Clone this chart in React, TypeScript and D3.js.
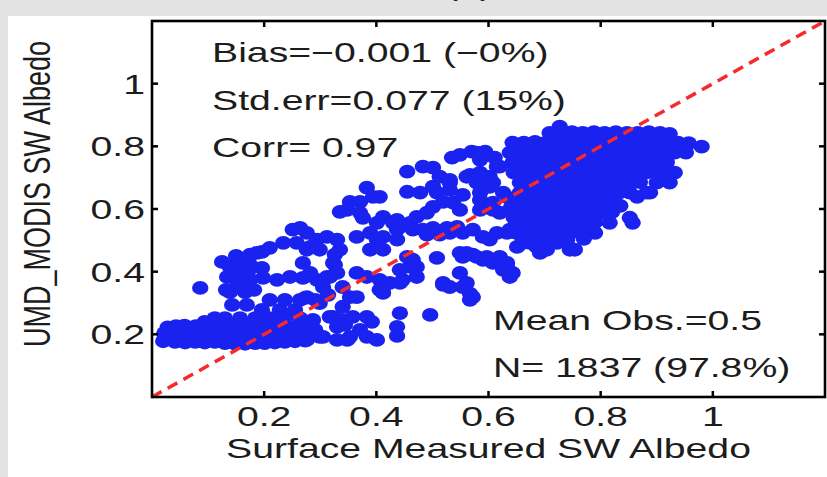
import React from 'react';
import * as d3 from 'd3';

// tick values shared by both axes
const ticks = [0.2, 0.4, 0.6, 0.8, 1];

// [surface measured, UMD_MODIS] albedo pairs
const lowBand = [
  [0.020, 0.178], [0.022, 0.204], [0.028, 0.222],
  [0.041, 0.176], [0.041, 0.200], [0.043, 0.226],
  [0.059, 0.174], [0.060, 0.200], [0.058, 0.228],
  [0.077, 0.176], [0.077, 0.201], [0.078, 0.226],
  [0.094, 0.174], [0.095, 0.199], [0.094, 0.228],
  [0.112, 0.176], [0.112, 0.200], [0.113, 0.229],
  [0.130, 0.172], [0.130, 0.198], [0.131, 0.228],
  [0.148, 0.170], [0.148, 0.198], [0.149, 0.230],
  [0.166, 0.170], [0.166, 0.198], [0.167, 0.228],
  [0.184, 0.172], [0.184, 0.200], [0.185, 0.228],
  [0.201, 0.172], [0.202, 0.198], [0.201, 0.226],
  [0.219, 0.174], [0.219, 0.198], [0.220, 0.226],
  [0.237, 0.176], [0.238, 0.200], [0.237, 0.224],
  [0.255, 0.178], [0.255, 0.200], [0.256, 0.222],
  [0.273, 0.180], [0.274, 0.204], [0.272, 0.226],
];

const lowBlob = [
  [0.130, 0.252], [0.157, 0.252], [0.184, 0.252], [0.210, 0.252], [0.237, 0.252], [0.264, 0.252],
  [0.143, 0.294], [0.169, 0.294], [0.196, 0.278], [0.228, 0.278], [0.255, 0.278],
  [0.139, 0.335], [0.166, 0.335], [0.153, 0.364],
  [0.287, 0.246], [0.317, 0.256], [0.339, 0.246], [0.305, 0.192], [0.330, 0.182],
  [0.348, 0.182], [0.276, 0.182], [0.264, 0.310], [0.273, 0.316], [0.086, 0.348],
  [0.132, 0.342], [0.157, 0.348], [0.182, 0.342], [0.146, 0.406], [0.171, 0.399],
  [0.196, 0.412], [0.125, 0.431], [0.150, 0.450], [0.175, 0.454], [0.210, 0.310],
  [0.237, 0.310], [0.112, 0.252], [0.094, 0.240], [0.291, 0.310], [0.314, 0.326],
  [0.291, 0.214], [0.246, 0.214], [0.344, 0.230], [0.371, 0.214], [0.392, 0.240],
];

const lowArc = [
  [0.139, 0.415], [0.157, 0.431], [0.175, 0.422], [0.187, 0.460], [0.134, 0.383],
  [0.152, 0.374], [0.175, 0.374], [0.198, 0.380], [0.223, 0.374], [0.246, 0.383],
  [0.269, 0.380], [0.294, 0.374], [0.305, 0.351], [0.317, 0.383], [0.326, 0.422],
  [0.326, 0.454], [0.299, 0.470], [0.282, 0.479], [0.258, 0.492], [0.234, 0.492],
  [0.210, 0.476], [0.196, 0.463],
];

const midLoop = [
  [0.276, 0.524], [0.294, 0.502], [0.312, 0.511], [0.330, 0.502], [0.335, 0.470],
  [0.323, 0.428], [0.330, 0.396], [0.312, 0.383], [0.282, 0.396], [0.269, 0.428],
  [0.276, 0.470], [0.251, 0.534], [0.264, 0.540],
];

const midScatter = [
  [0.340, 0.351], [0.353, 0.319], [0.365, 0.396], [0.383, 0.383], [0.406, 0.374],
  [0.412, 0.348], [0.447, 0.374], [0.472, 0.415], [0.455, 0.447], [0.465, 0.438],
  [0.406, 0.342], [0.424, 0.364], [0.442, 0.406], [0.460, 0.415], [0.472, 0.383],
  [0.442, 0.364], [0.412, 0.332], [0.508, 0.444], [0.549, 0.460], [0.572, 0.454],
  [0.597, 0.447], [0.549, 0.396], [0.561, 0.364], [0.572, 0.319], [0.531, 0.351],
  [0.519, 0.358], [0.442, 0.268], [0.496, 0.262], [0.437, 0.224], [0.437, 0.195],
  [0.276, 0.319], [0.299, 0.300], [0.323, 0.256], [0.340, 0.288], [0.365, 0.319],
  [0.383, 0.256], [0.358, 0.256], [0.353, 0.192], [0.383, 0.192], [0.401, 0.182],
  [0.330, 0.224], [0.299, 0.192], [0.554, 0.447], [0.590, 0.438], [0.608, 0.428],
  [0.626, 0.406], [0.638, 0.383], [0.567, 0.310], [0.519, 0.364], [0.602, 0.502],
  [0.633, 0.524], [0.651, 0.524], [0.674, 0.492], [0.704, 0.470], [0.745, 0.470],
  [0.561, 0.460], [0.579, 0.447], [0.620, 0.438], [0.633, 0.415], [0.638, 0.396],
  [0.554, 0.351], [0.567, 0.330],
];

const upperScatter = [
  [0.335, 0.591], [0.353, 0.623], [0.371, 0.623], [0.383, 0.668], [0.406, 0.639],
  [0.371, 0.588], [0.376, 0.572], [0.365, 0.511], [0.389, 0.524], [0.412, 0.511],
  [0.437, 0.534], [0.465, 0.534], [0.490, 0.518], [0.513, 0.518], [0.531, 0.524],
  [0.389, 0.470], [0.412, 0.470], [0.401, 0.556], [0.412, 0.575], [0.437, 0.565],
  [0.460, 0.556], [0.472, 0.575], [0.490, 0.588], [0.501, 0.607], [0.455, 0.655],
  [0.478, 0.652], [0.501, 0.671], [0.531, 0.661], [0.554, 0.645], [0.579, 0.684],
  [0.602, 0.671], [0.626, 0.652], [0.590, 0.511], [0.615, 0.524], [0.638, 0.534],
  [0.661, 0.543], [0.686, 0.556], [0.674, 0.502], [0.686, 0.479], [0.697, 0.524],
  [0.620, 0.588], [0.643, 0.629], [0.668, 0.652], [0.692, 0.671], [0.535, 0.764],
  [0.570, 0.783], [0.594, 0.783], [0.611, 0.764], [0.455, 0.719], [0.483, 0.735],
  [0.501, 0.732], [0.513, 0.703], [0.531, 0.693], [0.508, 0.652], [0.519, 0.623],
  [0.537, 0.620], [0.549, 0.597], [0.567, 0.709], [0.585, 0.716], [0.602, 0.703],
  [0.597, 0.607], [0.394, 0.639], [0.348, 0.597], [0.430, 0.556], [0.442, 0.543],
  [0.483, 0.534], [0.501, 0.540], [0.401, 0.502], [0.437, 0.502], [0.526, 0.540],
  [0.544, 0.543], [0.554, 0.524], [0.572, 0.534], [0.549, 0.773], [0.579, 0.780],
  [0.620, 0.735], [0.561, 0.703], [0.531, 0.684], [0.585, 0.629], [0.585, 0.597],
  [0.608, 0.597], [0.585, 0.757], [0.615, 0.735], [0.608, 0.684], [0.585, 0.652],
  [0.608, 0.620],
];

const upperBlob = [
  [0.727, 0.863],
  [0.709, 0.843], [0.729, 0.843], [0.749, 0.845], [0.768, 0.843], [0.788, 0.845], [0.807, 0.843],
  [0.827, 0.845], [0.847, 0.843], [0.866, 0.843], [0.886, 0.845], [0.906, 0.843], [0.923, 0.840],
  [0.643, 0.812], [0.663, 0.812], [0.683, 0.814], [0.702, 0.812], [0.722, 0.812], [0.742, 0.814],
  [0.761, 0.812], [0.781, 0.812], [0.800, 0.814], [0.820, 0.812], [0.840, 0.812], [0.859, 0.814],
  [0.879, 0.812], [0.898, 0.812], [0.918, 0.814], [0.938, 0.812], [0.957, 0.810],
  [0.638, 0.780], [0.658, 0.780], [0.677, 0.782], [0.697, 0.780], [0.717, 0.780], [0.736, 0.782],
  [0.756, 0.780], [0.775, 0.780], [0.795, 0.782], [0.815, 0.780], [0.834, 0.780], [0.854, 0.782],
  [0.873, 0.780], [0.893, 0.780], [0.913, 0.782], [0.932, 0.780], [0.952, 0.780], [0.980, 0.799],
  [0.643, 0.748], [0.663, 0.748], [0.683, 0.750], [0.702, 0.748], [0.722, 0.748], [0.742, 0.750],
  [0.761, 0.748], [0.781, 0.748], [0.800, 0.750], [0.820, 0.748], [0.840, 0.748], [0.859, 0.750],
  [0.879, 0.748], [0.898, 0.748], [0.918, 0.750],
  [0.645, 0.716], [0.665, 0.716], [0.684, 0.718], [0.704, 0.716], [0.724, 0.716], [0.743, 0.718],
  [0.763, 0.716], [0.783, 0.716], [0.802, 0.718], [0.822, 0.716], [0.841, 0.716], [0.861, 0.718],
  [0.881, 0.716], [0.900, 0.716], [0.920, 0.718], [0.932, 0.716],
  [0.656, 0.684], [0.676, 0.684], [0.695, 0.686], [0.715, 0.684], [0.735, 0.684], [0.754, 0.686],
  [0.774, 0.684], [0.794, 0.684], [0.813, 0.686], [0.833, 0.684], [0.853, 0.684], [0.870, 0.686],
  [0.900, 0.684], [0.923, 0.684],
  [0.656, 0.652], [0.676, 0.652], [0.695, 0.654], [0.715, 0.652], [0.735, 0.652], [0.754, 0.654],
  [0.774, 0.652], [0.794, 0.652], [0.813, 0.654], [0.833, 0.652], [0.852, 0.652],
  [0.660, 0.620], [0.680, 0.620], [0.700, 0.622], [0.719, 0.620], [0.739, 0.620], [0.758, 0.622],
  [0.778, 0.620], [0.798, 0.620], [0.817, 0.622], [0.825, 0.620],
  [0.665, 0.588], [0.685, 0.588], [0.704, 0.590], [0.724, 0.588], [0.744, 0.588], [0.763, 0.590],
  [0.783, 0.588], [0.799, 0.588],
  [0.692, 0.556], [0.712, 0.556], [0.731, 0.558], [0.751, 0.556], [0.771, 0.556], [0.790, 0.558],
  [0.816, 0.556], [0.857, 0.556],
  [0.709, 0.524], [0.729, 0.524], [0.749, 0.526], [0.768, 0.524], [0.790, 0.524],
  [0.722, 0.492], [0.754, 0.470], [0.661, 0.492], [0.651, 0.479], [0.692, 0.460], [0.643, 0.527],
  [0.620, 0.447], [0.633, 0.428], [0.643, 0.396], [0.852, 0.572], [0.918, 0.693], [0.888, 0.652],
  [0.865, 0.639], [0.882, 0.652],
  [0.635, 0.636], [0.640, 0.604], [0.645, 0.572], [0.650, 0.540], [0.668, 0.556], [0.672, 0.524],
  [0.690, 0.508], [0.705, 0.540], [0.740, 0.540], [0.770, 0.505], [0.740, 0.500], [0.700, 0.495],
  [0.660, 0.510], [0.680, 0.535], [0.760, 0.560], [0.800, 0.600], [0.820, 0.590], [0.835, 0.610],
];

const statsLeft = ['Bias=\u22120.001 (\u22120%)', 'Std.err=0.077 (15%)', 'Corr= 0.97'];
const statsRight = ['Mean Obs.=0.5', 'N= 1837 (97.8%)'];

const W = 827;
const H = 477;
const left = 152, right = 825, top = 21, bottom = 397;
const sx = 1.4; // the figure is stretched sideways
const font = '"Liberation Sans", Arial, Helvetica, sans-serif';

export default function App() {
  const x = d3.scaleLinear().domain([0, 1.2]).range([left, right]);
  const y = d3.scaleLinear().domain([0, 1.2]).range([bottom, top]);
  const points = [...lowBand, ...lowBlob, ...lowArc, ...midLoop, ...midScatter, ...upperScatter, ...upperBlob];
  const diag = d3.line<number>().x((d) => x(d)).y((d) => y(d));

  const label = (tx: number, ty: number, s: string, anchor = 'start', size = 28) => (
    <g key={s + tx + ty} transform={`translate(${tx},${ty}) scale(${sx},1)`}>
      <text textAnchor={anchor} fontSize={size} fill="#1c1c1c" fontFamily={font}>{s}</text>
    </g>
  );

  return (
    <svg width={W} height={H} style={{ position: 'absolute', left: 0, top: 0, display: 'block' }}>
      <rect x={0} y={0} width={W} height={H} fill="#e3e3e3" />
      <rect x={8} y={16} width={W - 8} height={H - 16} fill="#ffffff" />
      {label(469, -5, '(a)', 'middle')}

      <g>
        {points.map((d, i) => (
          <ellipse key={i} cx={x(d[0])} cy={y(d[1])} rx={8.2} ry={6.9} fill="#1a22f0" />
        ))}
      </g>
      <path d={diag([0, 1.2]) || ''} stroke="#f52a2a" strokeWidth={3.5} strokeDasharray="11 7" fill="none" />

      <rect x={left} y={top} width={right - left} height={bottom - top} fill="none" stroke="#000" strokeWidth={2.6} />
      {ticks.map((t) => (
        <g key={t} stroke="#000" strokeWidth={2.5}>
          <line x1={x(t)} x2={x(t)} y1={bottom} y2={bottom - 6} />
          <line x1={x(t)} x2={x(t)} y1={top} y2={top + 6} />
          <line x1={left} x2={left + 6} y1={y(t)} y2={y(t)} />
          <line x1={right} x2={right - 6} y1={y(t)} y2={y(t)} />
        </g>
      ))}
      {ticks.map((t) => label(x(t), 426, d3.format('')(t), 'middle'))}
      {ticks.map((t) => label(145, y(t) + 10, d3.format('')(t), 'end'))}

      {label((left + right) / 2, 458, 'Surface Measured SW Albedo', 'middle')}
      <g transform={`translate(50,${(top + bottom) / 2 - 15}) scale(${sx},1) rotate(-90)`}>
        <text textAnchor="middle" fontSize={27} fill="#1c1c1c" fontFamily={font}>UMD_MODIS SW Albedo</text>
      </g>

      {statsLeft.map((s, i) => label(212, 62 + i * 47.5, s))}
      {statsRight.map((s, i) => label(493, 330 + i * 47, s))}
    </svg>
  );
}
